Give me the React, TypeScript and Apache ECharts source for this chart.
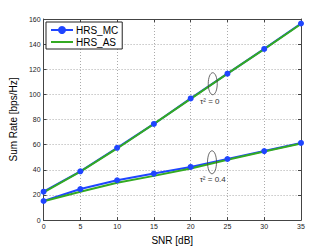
import React, { useEffect, useRef } from "react";
import * as echarts from "echarts";

const snr = [0, 5, 10, 15, 20, 25, 30, 35];
const mcTau0 = [22.6, 38.8, 57.5, 76.5, 96.8, 116.5, 136.2, 156.4];
const asTau0 = [22.0, 38.5, 57.0, 76.5, 96.5, 116.5, 136.0, 156.0];
const mcTau04 = [15.2, 24.7, 31.7, 37.0, 42.3, 48.6, 54.9, 61.4];
const asTau04 = [15.0, 22.6, 29.7, 35.2, 41.0, 48.0, 54.5, 61.0];
const xTicks = [0, 5, 10, 15, 20, 25, 30, 35];
const yTicks = [0, 20, 40, 60, 80, 100, 120, 140, 160];

const BLUE = "#1f45ff";
const GREEN = "#33aa22";

export default function App() {
  const ref = useRef<HTMLDivElement>(null);
  useEffect(() => {
    if (!ref.current) return;
    const chart = echarts.init(ref.current, null, { renderer: "svg" });
    const font = "Liberation Sans, Arial, sans-serif";
    const pts = (ys: number[]) => snr.map((x, i) => [x, ys[i]]);
    const axisCommon = {
      axisLine: { show: true, onZero: false, lineStyle: { color: "#444", width: 1 } },
      axisTick: { show: true, inside: true, length: 3, lineStyle: { color: "#444" } },
    };
    chart.setOption({
      animation: false,
      backgroundColor: "#fff",
      grid: { left: 43, right: 31, top: 19, bottom: 28 },
      legend: {
        left: 46,
        top: 22,
        orient: "vertical",
        backgroundColor: "#fff",
        borderColor: "#222",
        borderWidth: 1,
        borderRadius: 0,
        padding: [3, 4, 2, 4],
        itemGap: 2,
        itemWidth: 22,
        itemHeight: 10,
        textStyle: { fontSize: 10, fontFamily: font, color: "#000", padding: [0, 0, 0, -2] },
        data: [
          { name: "HRS_MC" },
          { name: "HRS_AS", itemStyle: { opacity: 0 } },
        ],
      },
      xAxis: [
        {
          type: "value",
          min: 0,
          max: 35,
          interval: 5,
          name: "SNR [dB]",
          nameLocation: "middle",
          nameGap: 13,
          nameTextStyle: { fontSize: 10, fontFamily: font, color: "#000" },
          axisLabel: {
            fontSize: 7,
            fontFamily: font,
            color: "#222",
            margin: 3,
            formatter: (v: number) => (xTicks.includes(v) ? String(v) : ""),
          },
          splitLine: { show: true, lineStyle: { type: [1, 2], color: "#aaa", width: 1 } },
          ...axisCommon,
        },
        {
          type: "value",
          position: "top",
          min: 0,
          max: 35,
          interval: 5,
          axisLabel: { show: false },
          splitLine: { show: false },
          ...axisCommon,
        },
      ],
      yAxis: [
        {
          type: "value",
          min: 0,
          max: 160,
          interval: 20,
          name: "Sum Rate [bps/Hz]",
          nameLocation: "middle",
          nameGap: 19,
          nameTextStyle: { fontSize: 10, fontFamily: font, color: "#000" },
          axisLabel: {
            fontSize: 7,
            fontFamily: font,
            color: "#222",
            margin: 3,
            formatter: (v: number) => (yTicks.includes(v) ? String(v) : ""),
          },
          splitLine: { show: true, lineStyle: { type: [1, 2], color: "#aaa", width: 1 } },
          ...axisCommon,
        },
        {
          type: "value",
          position: "right",
          min: 0,
          max: 160,
          interval: 20,
          axisLabel: { show: false },
          splitLine: { show: false },
          ...axisCommon,
        },
      ],
      series: [
        {
          name: "HRS_MC",
          type: "line",
          data: pts(mcTau0),
          symbol: "circle",
          symbolSize: 6,
          lineStyle: { color: BLUE, width: 2 },
          itemStyle: { color: BLUE },
        },
        {
          name: "HRS_MC",
          type: "line",
          data: pts(mcTau04),
          symbol: "circle",
          symbolSize: 6,
          lineStyle: { color: BLUE, width: 2 },
          itemStyle: { color: BLUE },
        },
        {
          name: "HRS_AS",
          type: "line",
          data: pts(asTau0),
          symbol: "none",
          lineStyle: { color: GREEN, width: 2 },
          itemStyle: { color: GREEN },
        },
        {
          name: "HRS_AS",
          type: "line",
          data: pts(asTau04),
          symbol: "none",
          lineStyle: { color: GREEN, width: 2 },
          itemStyle: { color: GREEN },
        },
      ],
    });

    const toPx = (p: number[]) => chart.convertToPixel({ xAxisIndex: 0, yAxisIndex: 0 }, p) as number[];
    const e1 = toPx([23.0, 108.5]);
    const e2 = toPx([22.9, 46.0]);
    const t1 = toPx([22.6, 94]);
    const t2 = toPx([23.0, 32]);
    const ell = { fill: "none", stroke: "#444", lineWidth: 0.8 };
    const txt = { fontSize: 8, fontFamily: font, fill: "#333", align: "center", verticalAlign: "middle" };
    chart.setOption({
      graphic: [
        { type: "ellipse", shape: { cx: e1[0], cy: e1[1], rx: 4.5, ry: 11 }, style: ell, z: 100 },
        { type: "ellipse", shape: { cx: e2[0], cy: e2[1], rx: 4.5, ry: 11.5 }, style: ell, z: 100 },
        { type: "text", x: t1[0], y: t1[1], style: { ...txt, text: "τ² = 0" }, z: 100 },
        { type: "text", x: t2[0], y: t2[1], style: { ...txt, text: "τ² = 0.4" }, z: 100 },
      ],
    });
    return () => chart.dispose();
  }, []);
  return <div ref={ref} style={{ position: "fixed", left: 0, top: 0, width: 332, height: 250 }} />;
}
